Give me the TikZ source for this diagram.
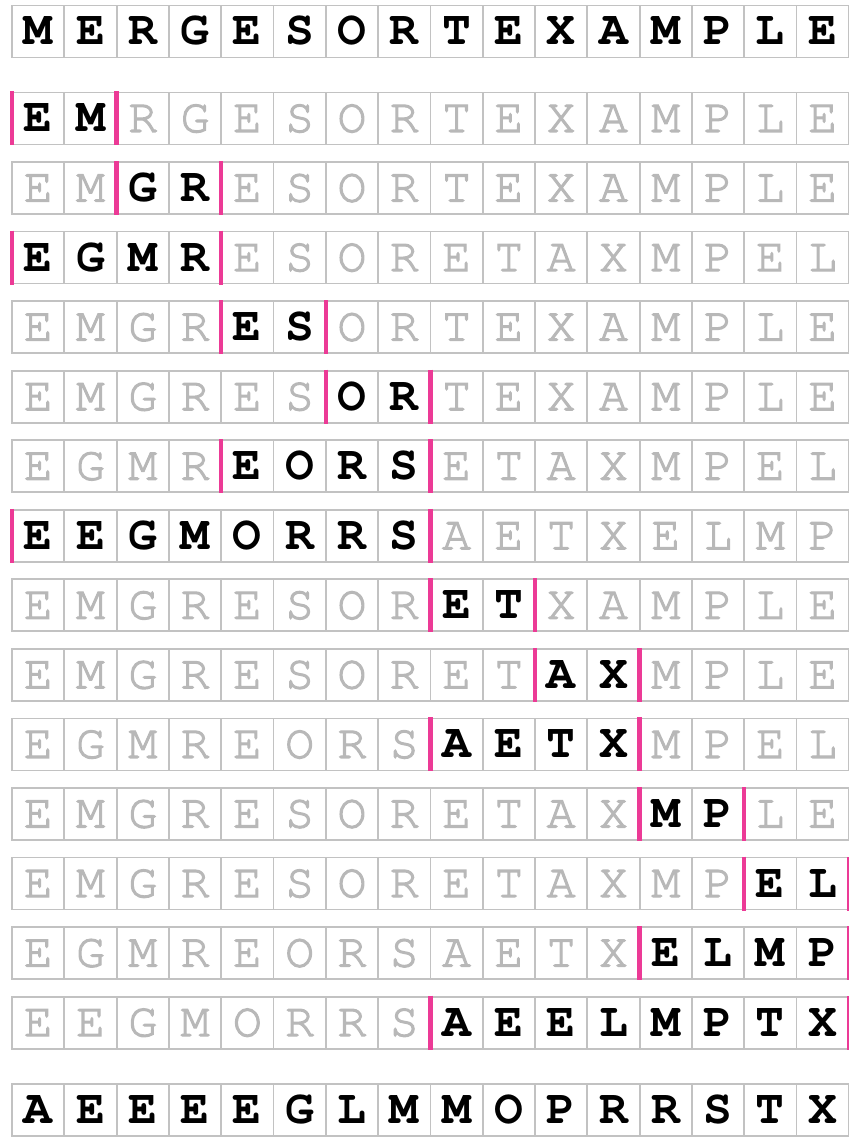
\documentclass[tikz,border=0pt]{standalone}
\usepackage[T1]{fontenc}
\newcommand\cellfont{\fontfamily{pcr}\fontsize{48}{48}\selectfont}
\newcommand\heavier{\special{pdf:literal direct 2 Tr 1.1 w}}
\definecolor{rangepink}{HTML}{EC3A96}
\definecolor{cellgray}{HTML}{C2C2C2}
\definecolor{dimgray}{HTML}{B8B8B8}

\begin{document}
\begin{tikzpicture}[
  x=1pt, y=-1pt,
  cell/.style = {draw=cellgray, line width=1.8pt, inner sep=0pt, outer sep=0pt,
                 minimum width=52.3pt, minimum height=52pt,
                 text height=27pt, text depth=0pt},
  hot/.style  = {cell, text=black, font=\cellfont\bfseries},
  dim/.style  = {cell, text=dimgray, font=\cellfont\heavier},
  bar/.style  = {draw=rangepink, line width=4.5pt, shorten <=-1pt, shorten >=-1pt},
]

\def\xo{12}      % left edge of column 0
\def\cw{52.3}    % column width
\def\ya{31.5}    % row y: input
\def\yb{118.5}   % row y: first merge step
\def\dy{69.55}   % pitch of the merge steps
\def\yz{1110}    % row y: sorted output

\useasboundingbox (0,0) rectangle (848,1139);

% ---- input -----------------------------------------------------------------
\foreach \c [count=\j from 0] in {M,E,R,G,E,S,O,R,T,E,X,A,M,P,L,E}
  \node[hot] (t\j) at ({\xo+(\j+0.5)*\cw}, \ya) {\c};

% ---- merge steps: black cells lie between the two bars ---------------------
\foreach \r/\lo/\hi/\seq in {
   1/0/2/{E,M,R,G,E,S,O,R,T,E,X,A,M,P,L,E},
   2/2/4/{E,M,G,R,E,S,O,R,T,E,X,A,M,P,L,E},
   3/0/4/{E,G,M,R,E,S,O,R,E,T,A,X,M,P,E,L},
   4/4/6/{E,M,G,R,E,S,O,R,T,E,X,A,M,P,L,E},
   5/6/8/{E,M,G,R,E,S,O,R,T,E,X,A,M,P,L,E},
   6/4/8/{E,G,M,R,E,O,R,S,E,T,A,X,M,P,E,L},
   7/0/8/{E,E,G,M,O,R,R,S,A,E,T,X,E,L,M,P},
   8/8/10/{E,M,G,R,E,S,O,R,E,T,X,A,M,P,L,E},
   9/10/12/{E,M,G,R,E,S,O,R,E,T,A,X,M,P,L,E},
  10/8/12/{E,G,M,R,E,O,R,S,A,E,T,X,M,P,E,L},
  11/12/14/{E,M,G,R,E,S,O,R,E,T,A,X,M,P,L,E},
  12/14/16/{E,M,G,R,E,S,O,R,E,T,A,X,M,P,E,L},
  13/12/16/{E,G,M,R,E,O,R,S,A,E,T,X,E,L,M,P},
  14/8/16/{E,E,G,M,O,R,R,S,A,E,E,L,M,P,T,X}} {
  \pgfmathsetmacro\yc{\yb+(\r-1)*\dy}
  \foreach \c [count=\j from 0] in \seq {
    \ifnum\j<\lo \def\kind{dim}\else\ifnum\j<\hi \def\kind{hot}\else\def\kind{dim}\fi\fi
    \node[\kind] (m\r-\j) at ({\xo+(\j+0.5)*\cw}, \yc) {\c};
  }
  \pgfmathtruncatemacro\last{\hi-1}
  \draw[bar] (m\r-\lo.north west) -- (m\r-\lo.south west);
  \draw[bar] (m\r-\last.north east) -- (m\r-\last.south east);
}

% ---- sorted output ---------------------------------------------------------
\foreach \c [count=\j from 0] in {A,E,E,E,E,G,L,M,M,O,P,R,R,S,T,X}
  \node[hot] (b\j) at ({\xo+(\j+0.5)*\cw}, \yz) {\c};

\end{tikzpicture}
\end{document}
